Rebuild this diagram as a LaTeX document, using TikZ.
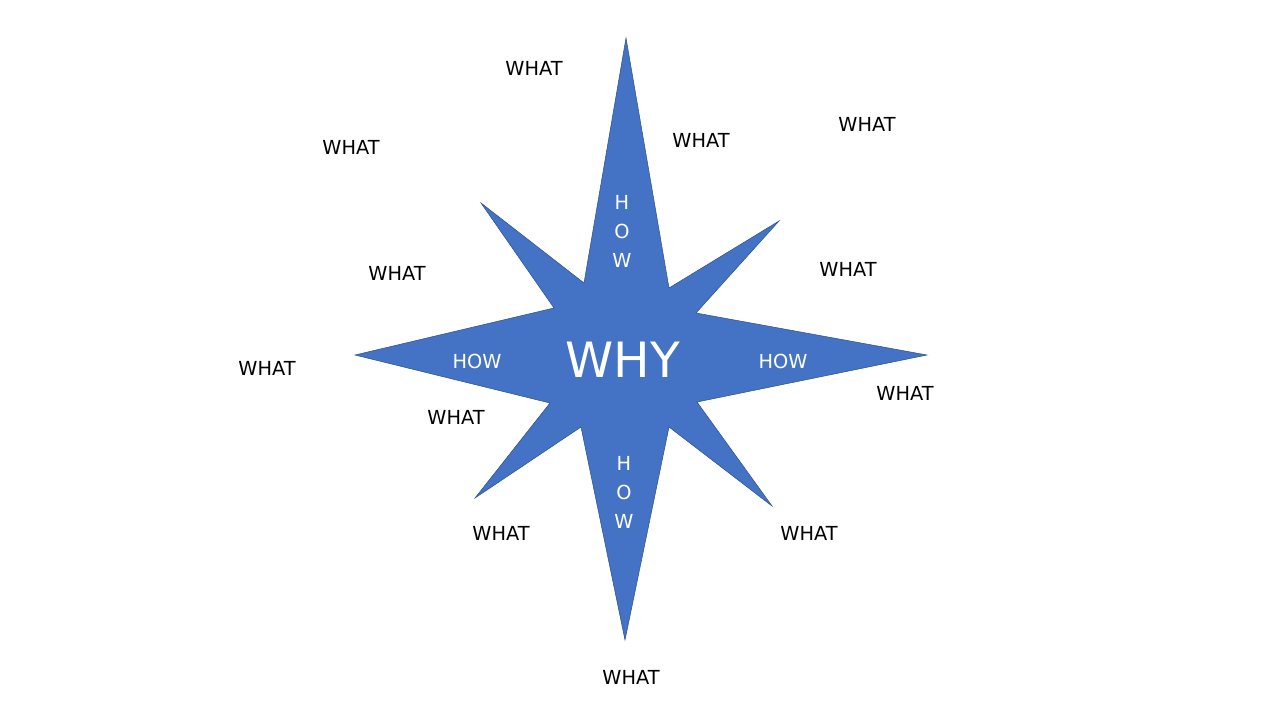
\documentclass[tikz,border=0pt]{standalone}
\usepackage{fontspec}
\setmainfont{DejaVu Sans}
\usepackage{tikz}
\definecolor{starblue}{HTML}{4472C4}
\definecolor{staredge}{HTML}{2F528F}

\begin{document}
\begin{tikzpicture}[
    x=0.75pt, y=-0.75pt,
    star/.style={fill=starblue, draw=staredge, line width=0.4pt, line join=miter},
    what node/.style={font=\fontsize{14.5}{17}\selectfont, text=black, inner sep=0pt},
    how node/.style={font=\fontsize{14.5}{17}\selectfont, text=white, inner sep=0pt},
    why node/.style={font=\fontsize{36.5}{40}\selectfont, text=white, inner sep=0pt}]

  \useasboundingbox (0,0) rectangle (1280,720);

  % the star
  \draw[star] (626,38) -- (669,288) -- (779,221) -- (696,313) -- (927,355)
    -- (697,402) -- (772,506) -- (669,427) -- (625,640) -- (581,427)
    -- (475,498) -- (550,403) -- (355,355) -- (554,308) -- (481,203)
    -- (584,283) -- cycle;

  \node[why node] (Why) at (623,360) {WHY};
  \node[how node] (HowLeft) at (477,361) {HOW};
  \node[how node] (HowRight) at (783,361) {HOW};
  \node[how node] (HowTopH) at (622,202) {H};
  \node[how node] (HowTopO) at (622,231) {O};
  \node[how node] (HowTopW) at (622,260) {W};
  \node[how node] (HowBotH) at (624,463) {H};
  \node[how node] (HowBotO) at (624,492) {O};
  \node[how node] (HowBotW) at (624,521) {W};

  \node[what node] (What1) at (534,68) {WHAT};
  \node[what node] (What2) at (701,140) {WHAT};
  \node[what node] (What3) at (867,124) {WHAT};
  \node[what node] (What4) at (351,147) {WHAT};
  \node[what node] (What5) at (397,273) {WHAT};
  \node[what node] (What6) at (848,269) {WHAT};
  \node[what node] (What7) at (267,368) {WHAT};
  \node[what node] (What8) at (905,393) {WHAT};
  \node[what node] (What9) at (456,417) {WHAT};
  \node[what node] (What10) at (501,533) {WHAT};
  \node[what node] (What11) at (809,533) {WHAT};
  \node[what node] (What12) at (631,677) {WHAT};

\end{tikzpicture}
\end{document}
